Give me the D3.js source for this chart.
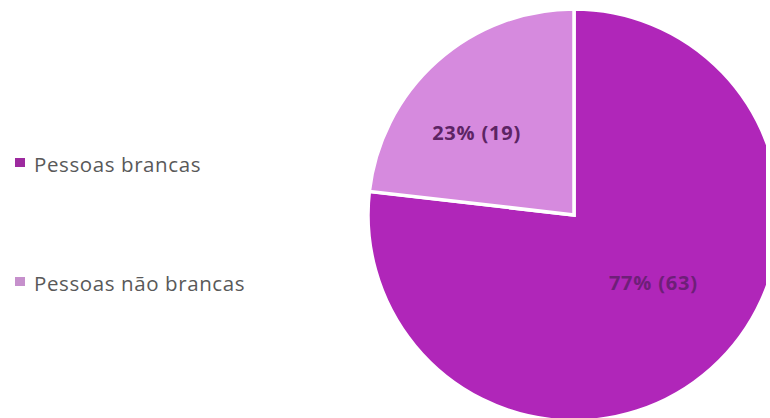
<!DOCTYPE html>
<html>
<head>
<meta charset="utf-8">
<script src="https://cdn.jsdelivr.net/npm/d3@7"></script>
<style>
  html, body { margin: 0; padding: 0; background: #fff; }
  svg { display: block; }
</style>
</head>
<body>
<svg id="chart" width="770" height="418"></svg>
<script>
// ---- data ----
const categories = ["Pessoas brancas", "Pessoas não brancas"];
const counts = [63, 19];
const percentLabels = ["77%", "23%"];
const sliceColors = ["#b026b9", "#d68ade"];
const swatchColors = ["#9d2a9f", "#c690cc"];
const labelColors = ["#6e1f78", "#5c2464"];

// ---- layout ----
const W = 770, H = 418;
const cx = 574, cy = 215, R = 206;
const labelRadiusFactor = [0.505, 0.62];
const labelAngleShift = -8 * Math.PI / 180;

const svg = d3.select("#chart");
svg.append("defs").append("clipPath").attr("id", "clip")
  .append("rect").attr("x", 0).attr("y", 0).attr("width", 766).attr("height", H);

const data = categories.map((c, i) => ({ name: c, value: counts[i], pct: percentLabels[i], i }));

const pie = d3.pie().value(d => d.value).sort(null).startAngle(0).endAngle(2 * Math.PI);
const arcs = pie(data);
const arc = d3.arc().innerRadius(0).outerRadius(R);

const g = svg.append("g").attr("clip-path", "url(#clip)")
  .append("g").attr("transform", `translate(${cx},${cy})`);

g.selectAll("path.slice").data(arcs).enter().append("path")
  .attr("class", "slice")
  .attr("d", arc)
  .attr("fill", d => sliceColors[d.data.i])
  .attr("stroke", "#fff")
  .attr("stroke-width", 3.5)
  .attr("stroke-linejoin", "miter");

g.selectAll("text.lbl").data(arcs).enter().append("text")
  .attr("class", "lbl")
  .each(function(d) {
    const a = (d.startAngle + d.endAngle) / 2 + labelAngleShift;
    const r = R * labelRadiusFactor[d.data.i];
    d3.select(this)
      .attr("x", r * Math.sin(a))
      .attr("y", -r * Math.cos(a));
  })
  .attr("text-anchor", "middle")
  .attr("dominant-baseline", "central")
  .attr("font-family", "'Open Sans', sans-serif")
  .attr("font-weight", "bold")
  .attr("font-size", 20)
  .attr("letter-spacing", 0.8)
  .attr("fill", d => labelColors[d.data.i])
  .text(d => `${d.data.pct} (${d.data.value})`);

// ---- legend ----
const legendY = d3.scalePoint().domain(categories).range([172, 291]);
const leg = svg.append("g");
const items = leg.selectAll("g").data(categories).enter().append("g")
  .attr("transform", d => `translate(0,${legendY(d)})`);
items.append("rect")
  .attr("x", 15).attr("y", -14).attr("width", 10).attr("height", 9)
  .attr("fill", (d, i) => swatchColors[i]);
items.append("text")
  .attr("x", 34).attr("y", 0)
  .attr("font-family", "'Open Sans', sans-serif")
  .attr("font-size", 20.5)
  .attr("letter-spacing", 0.6)
  .attr("fill", "#595959")
  .text(d => d);
</script>
</body>
</html>
